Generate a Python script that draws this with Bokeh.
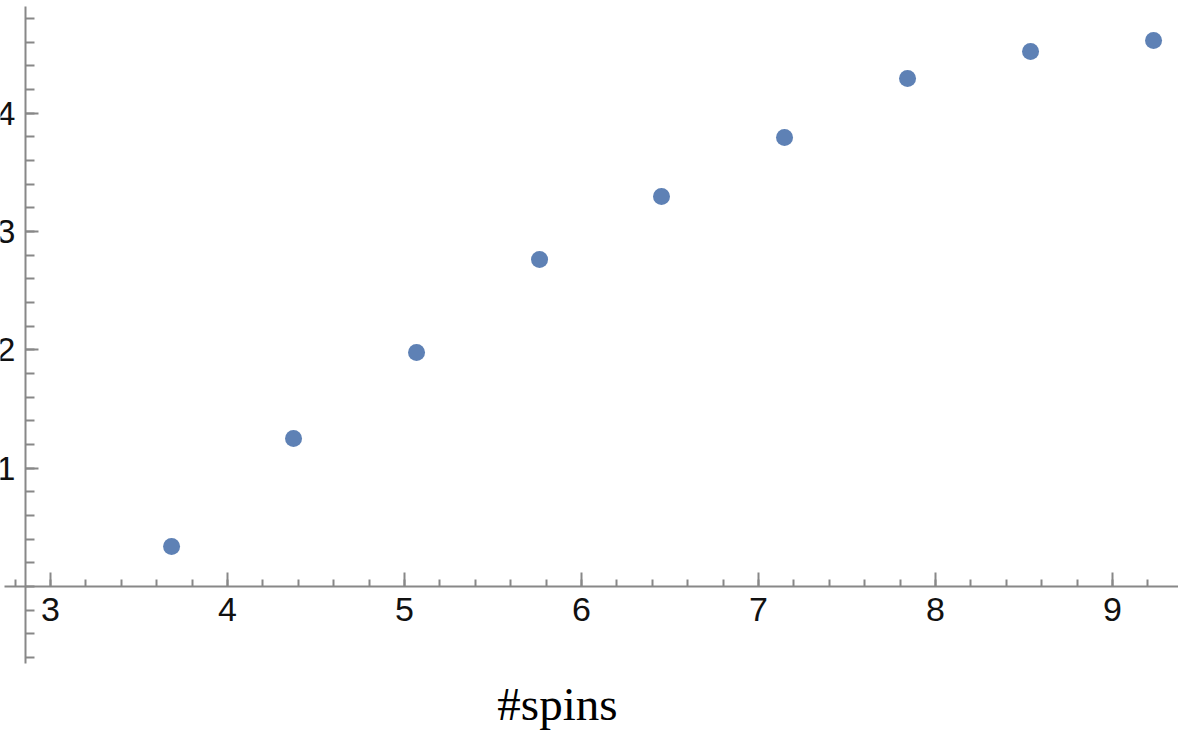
from bokeh.plotting import figure
from bokeh.models import LinearAxis, FixedTicker, Label, ColumnDataSource, Range1d
from bokeh.embed import file_html
from bokeh.resources import INLINE

# data
spins = [3.684, 4.373, 5.068, 5.763, 6.452, 7.147, 7.842, 8.537, 9.232]
vals = [0.338, 1.251, 1.978, 2.764, 3.297, 3.795, 4.294, 4.522, 4.615]
x_ticks = [3, 4, 5, 6, 7, 8, 9]
y_ticks = [1, 2, 3, 4]
x_minor = [round(2.8 + 0.2 * i, 1) for i in range(33)]
y_minor = [round(-0.6 + 0.2 * i, 1) for i in range(28)]
x_label = "#spins"

p = figure(width=1178, height=730, output_backend="svg", toolbar_location=None,
           x_range=Range1d(2.7175, 9.3729), y_range=Range1d(-1.2172, 4.9535),
           x_axis_type=None, y_axis_type=None, min_border=0)
p.outline_line_color = None
p.grid.visible = False
p.background_fill_color = "white"
p.border_fill_color = "white"

src = ColumnDataSource(dict(x=spins, y=vals))
p.scatter("x", "y", source=src, size=17, color="#5E81B5", line_color=None)

axis_color = "#888888"
xa = LinearAxis(fixed_location=0, ticker=FixedTicker(ticks=x_ticks, minor_ticks=x_minor),
                bounds=(2.74, 9.38))
ya = LinearAxis(fixed_location=2.8588, ticker=FixedTicker(ticks=y_ticks, minor_ticks=y_minor),
                bounds=(-0.65, 4.9))
for ax in (xa, ya):
    ax.axis_line_color = axis_color
    ax.axis_line_width = 2
    ax.major_tick_line_color = axis_color
    ax.minor_tick_line_color = axis_color
    ax.major_tick_line_width = 2
    ax.minor_tick_line_width = 2
    ax.major_tick_out = 0
    ax.minor_tick_out = 0
    ax.major_label_text_font = "Liberation Sans"
    ax.major_label_text_font_size = "34px"
    ax.major_label_text_color = "#111111"
xa.major_tick_in = 14
xa.minor_tick_in = 7
xa.major_label_standoff = 11
ya.major_tick_in = 13
ya.minor_tick_in = 9
ya.major_label_standoff = 10
p.add_layout(xa, "below")
p.add_layout(ya, "left")

p.add_layout(Label(x=5.864, y=-0.997, text=x_label, text_font="Liberation Serif",
                   text_font_size="47px", text_align="center", text_baseline="alphabetic",
                   text_color="black"))

open("out.html", "w").write(file_html(p, INLINE))
